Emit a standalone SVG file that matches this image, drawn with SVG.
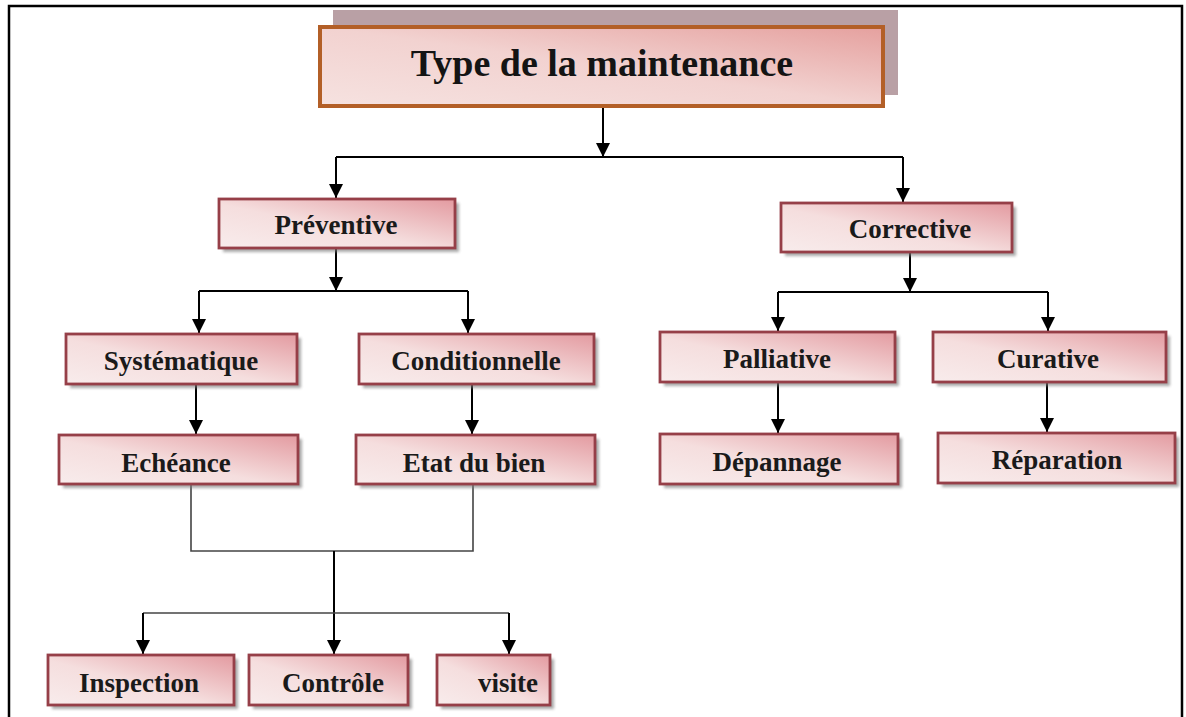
<svg xmlns="http://www.w3.org/2000/svg" width="1186" height="717" viewBox="0 0 1186 717">
<style>
.box{fill:url(#boxfill);stroke:#963f48;stroke-width:2.8}
.shadow{fill:#7a7a7a;opacity:0.65;filter:url(#blur)}
.lbl{font-family:"Liberation Serif","Times New Roman",serif;font-weight:bold;font-size:27px;fill:#1a1a1a;text-anchor:middle}
.title{font-family:"Liberation Serif","Times New Roman",serif;font-weight:bold;font-size:38px;fill:#141414;text-anchor:middle}
.con{fill:none;stroke:#000;stroke-width:2}
.con2{fill:none;stroke:#444;stroke-width:1.6}
</style>
<defs>
<linearGradient id="boxfill" x1="0" y1="1" x2="1" y2="0">
<stop offset="0" stop-color="#f8ecec"/>
<stop offset="0.45" stop-color="#f5dede"/>
<stop offset="1" stop-color="#e39aa0"/>
</linearGradient>
<linearGradient id="titlefill" x1="0" y1="1" x2="1" y2="0">
<stop offset="0" stop-color="#f6e2e0"/>
<stop offset="0.5" stop-color="#f2d2d0"/>
<stop offset="1" stop-color="#e5a09e"/>
</linearGradient>
<filter id="blur" x="-5%" y="-20%" width="110%" height="140%"><feGaussianBlur stdDeviation="1.5"/></filter>
<marker id="arr" viewBox="0 0 10 10" refX="10" refY="5" markerUnits="userSpaceOnUse" markerWidth="14" markerHeight="14" orient="auto">
<path d="M0,0 L10,5 L0,10 z" fill="#000"/>
</marker>
</defs>
<rect width="1186" height="717" fill="#fff"/>
<path d="M9,717 V6 H1182 V717" fill="none" stroke="#000" stroke-width="2.5"/>

<g id="connectors">
<path class="con" d="M603,107 V157" marker-end="url(#arr)"/>
<path class="con" d="M336,157 H903"/>
<path class="con" d="M336,157 V198" marker-end="url(#arr)"/>
<path class="con" d="M903,157 V202" marker-end="url(#arr)"/>
<path class="con" d="M336,248 V291" marker-end="url(#arr)"/>
<path class="con" d="M199,291 H468"/>
<path class="con" d="M199,291 V333" marker-end="url(#arr)"/>
<path class="con" d="M468,291 V333" marker-end="url(#arr)"/>
<path class="con" d="M196,384 V434" marker-end="url(#arr)"/>
<path class="con" d="M472,384 V434" marker-end="url(#arr)"/>
<path class="con2" d="M191,485 V551 H473 V485"/>
<path class="con" d="M334,551 V654" marker-end="url(#arr)"/>
<path class="con2" d="M143,613 H509"/>
<path class="con" d="M143,613 V654" marker-end="url(#arr)"/>
<path class="con" d="M509,613 V654" marker-end="url(#arr)"/>
<path class="con" d="M910,252 V292" marker-end="url(#arr)"/>
<path class="con" d="M778,292 H1048"/>
<path class="con" d="M778,292 V331" marker-end="url(#arr)"/>
<path class="con" d="M1048,292 V331" marker-end="url(#arr)"/>
<path class="con" d="M778,382 V433" marker-end="url(#arr)"/>
<path class="con" d="M1047,382 V432" marker-end="url(#arr)"/>
</g>

<g id="title">
<rect x="333" y="10" width="565" height="85" fill="#b9a0a5"/>
<rect x="320" y="27" width="563" height="79" fill="url(#titlefill)" stroke="#b35f27" stroke-width="4"/>
<text class="title" x="602" y="76">Type de la maintenance</text>
</g>

<g id="preventive">
<rect class="shadow" x="223" y="203" width="236" height="49"/>
<rect class="box" x="219" y="199" width="236" height="49"/>
<text class="lbl" x="336" y="234">Préventive</text>
</g>
<g id="corrective">
<rect class="shadow" x="785" y="207" width="231" height="49"/>
<rect class="box" x="781" y="203" width="231" height="49"/>
<text class="lbl" x="910" y="238">Corrective</text>
</g>
<g id="systematique">
<rect class="shadow" x="70" y="338" width="231" height="50"/>
<rect class="box" x="66" y="334" width="231" height="50"/>
<text class="lbl" x="181" y="370">Systématique</text>
</g>
<g id="conditionnelle">
<rect class="shadow" x="363" y="338" width="235" height="50"/>
<rect class="box" x="359" y="334" width="235" height="50"/>
<text class="lbl" x="476" y="370">Conditionnelle</text>
</g>
<g id="echeance">
<rect class="shadow" x="63" y="439" width="239" height="49"/>
<rect class="box" x="59" y="435" width="239" height="49"/>
<text class="lbl" x="176" y="472">Echéance</text>
</g>
<g id="etat-du-bien">
<rect class="shadow" x="360" y="439" width="239" height="49"/>
<rect class="box" x="356" y="435" width="239" height="49"/>
<text class="lbl" x="474" y="472">Etat du bien</text>
</g>
<g id="palliative">
<rect class="shadow" x="664" y="336" width="235" height="50"/>
<rect class="box" x="660" y="332" width="235" height="50"/>
<text class="lbl" x="777" y="368">Palliative</text>
</g>
<g id="curative">
<rect class="shadow" x="937" y="336" width="233" height="50"/>
<rect class="box" x="933" y="332" width="233" height="50"/>
<text class="lbl" x="1048" y="368">Curative</text>
</g>
<g id="depannage">
<rect class="shadow" x="664" y="438" width="238" height="50"/>
<rect class="box" x="660" y="434" width="238" height="50"/>
<text class="lbl" x="777" y="471">Dépannage</text>
</g>
<g id="reparation">
<rect class="shadow" x="942" y="437" width="237" height="50"/>
<rect class="box" x="938" y="433" width="237" height="50"/>
<text class="lbl" x="1057" y="469">Réparation</text>
</g>
<g id="inspection">
<rect class="shadow" x="52" y="659" width="186" height="50"/>
<rect class="box" x="48" y="655" width="186" height="50"/>
<text class="lbl" x="139" y="692">Inspection</text>
</g>
<g id="controle">
<rect class="shadow" x="253" y="659" width="159" height="50"/>
<rect class="box" x="249" y="655" width="159" height="50"/>
<text class="lbl" x="333" y="692">Contrôle</text>
</g>
<g id="visite">
<rect class="shadow" x="441" y="659" width="113" height="50"/>
<rect class="box" x="437" y="655" width="113" height="50"/>
<text class="lbl" x="508" y="692">visite</text>
</g>
</svg>
